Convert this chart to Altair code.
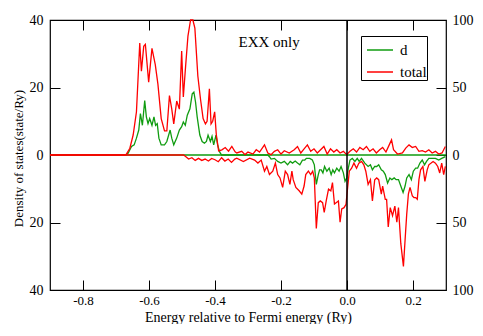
import altair as alt
import pandas as pd

# ---- data (energies in Ry, d in left-axis units, total in right-axis units) ----
d_up_E = [-0.90, -0.67, -0.663, -0.653, -0.645, -0.638, -0.631, -0.626, -0.620, -0.613, -0.608,
          -0.603, -0.598, -0.591, -0.585, -0.580, -0.575, -0.570, -0.563, -0.553, -0.546, -0.536,
          -0.531, -0.525, -0.516, -0.508, -0.501, -0.496, -0.490, -0.484, -0.476, -0.469, -0.464,
          -0.459, -0.454, -0.446, -0.439, -0.432, -0.426, -0.421, -0.414, -0.409, -0.404, -0.397,
          -0.392, -0.386, -0.38, 0.30]
d_up_V = [0, 0, 0.6, 2.5, 3, 5, 7.4, 12.3, 8.8, 16.1, 11.3,
          9.3, 10.8, 8.8, 11.3, 8.8, 9.3, 5, 3, 3, 4, 7.4,
          5, 3, 5, 7.4, 8.4, 9.8, 8.8, 11.8, 13.7, 18.1, 18.6,
          15.7, 11.3, 5.9, 4, 3.5, 4, 5.9, 4, 5.5, 3, 5.9,
          3, 0.9, 0, 0]

d_dn_E = [-0.90, -0.24, -0.235, -0.230, -0.220, -0.210, -0.200, -0.190, -0.180, -0.172, -0.165,
          -0.157, -0.150, -0.143, -0.135, -0.128, -0.123, -0.113, -0.105, -0.099, -0.093, -0.087,
          -0.083, -0.078, -0.073, -0.068, -0.061, -0.054, -0.048, -0.043, -0.038, -0.031, -0.024,
          -0.018, -0.011, -0.006, -0.001, 0.004, 0.009, 0.016, 0.024, 0.031, 0.037, 0.044, 0.054,
          0.064, 0.071, 0.077, 0.084, 0.090, 0.096, 0.104, 0.110, 0.116, 0.123, 0.130, 0.136,
          0.143, 0.149, 0.156, 0.163, 0.170, 0.176, 0.181, 0.188, 0.195, 0.201, 0.208, 0.214,
          0.221, 0.228, 0.235, 0.241, 0.248, 0.258, 0.268, 0.278, 0.287, 0.298]
d_dn_V = [0, 0, -0.5, -1.2, -1, -1.9, -2.4, -1.9, -2.9, -1.9, -2.4,
          -1.8, -2.4, -2.9, -1.5, -1.5, -1, -1, -1.5, -2.9, -8.7, -5.8,
          -4.4, -4.4, -5.3, -3.4, -4.8, -3.9, -5.8, -4.4, -5.3, -3.9, -4.8,
          -3.4, -5.3, -7.8, -6.8, -3.9, -1.5, -1, -1.9, -1, -1.9, -1, -2.4,
          -3.4, -2.9, -4.4, -3.4, -3.4, -2.9, -4.4, -4.8, -5.8, -8.3, -6.8, -7.3,
          -6.8, -7.3, -7.3, -9.2, -11.1, -9.2, -6.8, -5.8, -7.3, -4.8, -3.9, -3.9,
          -2.4, -1.5, -2.9, -1.9, -1, -1, -1, -1.5, -1, -0.5]

tot_up_E = [-0.90, -0.672, -0.668, -0.658, -0.648, -0.638, -0.628, -0.623, -0.616, -0.611, -0.601,
            -0.591, -0.581, -0.573, -0.563, -0.553, -0.546, -0.538, -0.531, -0.525, -0.516, -0.508,
            -0.501, -0.496, -0.489, -0.482, -0.474, -0.467, -0.461, -0.452, -0.444, -0.436, -0.429,
            -0.424, -0.417, -0.412, -0.407, -0.401, -0.396, -0.389, -0.379, -0.369, -0.359, -0.349,
            -0.339, -0.334, -0.319, -0.309, -0.300, -0.285, -0.275, -0.265, -0.250, -0.240, -0.230,
            -0.220, -0.210, -0.200, -0.190, -0.175, -0.160, -0.150, -0.140, -0.130, -0.120, -0.110,
            -0.100, -0.090, -0.080, -0.070, -0.060, -0.050, -0.040, -0.031, -0.021, -0.011, -0.001,
            0.009, 0.019, 0.029, 0.039, 0.049, 0.059, 0.069, 0.079, 0.089, 0.099, 0.108, 0.118,
            0.128, 0.135, 0.141, 0.153, 0.168, 0.178, 0.188, 0.198, 0.208, 0.218, 0.228, 0.238,
            0.248, 0.258, 0.268, 0.278, 0.288, 0.298]
tot_up_V = [0, 0, 0.8, 5, 14.8, 32, 83, 62, 80.5, 82, 54,
            79, 67, 52.5, 27, 17.8, 17.8, 44, 34, 23, 40, 34,
            77, 43, 66, 88, 100, 100, 94, 58.5, 41.5, 27, 23,
            25, 49, 23, 25, 32, 15, 3, 3.8, 5.5, 2.8, 6.3,
            2.3, 1.5, 2.7, 0.3, 2.2, 0.7, 3.9, 2.2, 7.5, 1.5, 0.3,
            2.7, 3.9, 0.7, 3.2, 1.5, 3.9, 6.3, 1.5, 4.6, 7.5, 2.7,
            4.6, 1.5, 3.9, 6.3, 0.7, 4.6, 2.2, 3.9, 1.5, 2.7, 0.3,
            2.7, 4.6, 2.2, 5.6, 3.9, 6.3, 2.7, 4.6, 1.5, 3.9, 5.6, 2.2,
            7.5, 11.2, 3.9, 0.7, 1.5, 5.1, 7.5, 5.6, 6.3, 2.7, 3.2, 2.2,
            3.9, 1.5, 2.7, 0.7, 1.5, 6.3]

tot_dn_E = [-0.90, -0.495, -0.49, -0.48, -0.47, -0.46, -0.45, -0.44, -0.43, -0.42, -0.41,
            -0.40, -0.39, -0.38, -0.37, -0.36, -0.35, -0.34, -0.334, -0.314, -0.295, -0.280,
            -0.270, -0.260, -0.250, -0.243, -0.235, -0.225, -0.217, -0.210, -0.203, -0.195, -0.187,
            -0.180, -0.173, -0.167, -0.163, -0.155, -0.145, -0.137, -0.130, -0.125, -0.117, -0.110,
            -0.104, -0.099, -0.093, -0.087, -0.081, -0.074, -0.069, -0.063, -0.056, -0.049, -0.044,
            -0.038, -0.033, -0.026, -0.021, -0.016, -0.009, -0.003, 0.002, 0.007, 0.014, 0.021,
            0.029, 0.036, 0.044, 0.051, 0.057, 0.064, 0.071, 0.077, 0.084, 0.090, 0.096,
            0.104, 0.108, 0.116, 0.120, 0.125, 0.131, 0.138, 0.145, 0.151, 0.156, 0.163,
            0.171, 0.176, 0.181, 0.186, 0.191, 0.198, 0.203, 0.208, 0.213, 0.218, 0.223,
            0.230, 0.236, 0.243, 0.248, 0.255, 0.261, 0.268, 0.275, 0.281, 0.287, 0.293, 0.298]
tot_dn_V = [0, 0, -1, -3, -2, -4, -2.5, -4, -3, -4.5, -2.5,
            -3.5, -5, -2, -4.5, -3, -5.5, -3, -2.3, -4.8, -2.3, -3.8,
            -6, -3.8, -12, -8.5, -14.5, -12, -6, -14.5, -17, -24, -12,
            -14.5, -21.8, -12, -18.3, -24, -26.5, -29, -23, -14.5, -12, -14.5,
            -12, -17, -54.5, -35.3, -34, -35.3, -42.5, -34, -25.3, -26.5, -20.5,
            -36.3, -35.3, -34, -49.8, -40, -39, -36.5, -24, -12, -9.8, -6,
            -9.8, -6, -4.8, -7.3, -12, -21.8, -18.3, -34, -18.3, -17, -18.3,
            -29, -23, -32.8, -32.8, -53.3, -39, -45, -37.8, -49.8, -39, -65.5,
            -82.5, -63, -43.8, -29, -24, -30.3, -31.5, -31.5, -32.8, -18.3, -11,
            -8.5, -19.5, -11, -7.3, -6, -4.8, -6, -8.5, -13.3, -6, -14.5, -8.5]

series_names = ["d", "total"]
series_colors = ["#109c10", "#ff0000"]
x_ticks = [-0.8, -0.6, -0.4, -0.2, 0.0, 0.2]
left_ticks = [-40, -20, 0, 20, 40]
right_ticks = [-100, -50, 0, 50, 100]

d_df = pd.concat([
    pd.DataFrame({"E": d_up_E, "v": d_up_V, "series": "d", "part": "up"}),
    pd.DataFrame({"E": d_dn_E, "v": d_dn_V, "series": "d", "part": "down"}),
])
t_df = pd.concat([
    pd.DataFrame({"E": tot_up_E, "v": tot_up_V, "series": "total", "part": "up"}),
    pd.DataFrame({"E": tot_dn_E, "v": tot_dn_V, "series": "total", "part": "down"}),
])

FONT = "Liberation Serif"
W, H = 396, 270

x_enc = alt.X("E:Q", scale=alt.Scale(domain=[-0.9, 0.3], nice=False, zero=False),
              axis=alt.Axis(values=x_ticks, title="Energy relative to Fermi energy (Ry)",
                            labelExpr="(datum.value < -0.001 ? '-' : '') + format(abs(datum.value), '.1f')",
                            domain=False, ticks=False, labelPadding=4,
                            grid=True, gridColor="black", gridOpacity=1, gridWidth=1,
                            gridDash=[10, H - 20],
                            labelFontSize=13, labelColor="black",
                            titleFontSize=14, titleFontWeight="normal",
                            titleColor="black", titleY=31, titleBaseline="alphabetic"))

color_enc = alt.Color("series:N", scale=alt.Scale(domain=series_names, range=series_colors),
                      legend=alt.Legend(title=None, orient="none", legendX=311, legendY=16,
                                        symbolType="stroke", symbolSize=676, symbolStrokeWidth=1.5,
                                        symbolOffset=5,
                                        labelFontSize=15, labelColor="black",
                                        labelExpr="datum.label + '  '",
                                        strokeColor="black", fillColor="white", padding=0,
                                        labelOffset=6, rowPadding=-12))

d_layer = alt.Chart(d_df).mark_line(strokeWidth=1.3).encode(
    x=x_enc,
    y=alt.Y("v:Q", scale=alt.Scale(domain=[-40, 40], nice=False),
            axis=alt.Axis(values=left_ticks, orient="left", title="Density of states(state/Ry)",
                          labelExpr="'' + abs(datum.value)", domain=False, ticks=False,
                          labelPadding=7, grid=True, gridColor="black", gridOpacity=1,
                          gridWidth=1, gridDash=[10, W - 20],
                          labelFontSize=14, labelColor="black",
                          titleFontSize=13, titleFontWeight="normal",
                          titleColor="black", titleX=-32, titleY=138, titleBaseline="middle")),
    color=color_enc,
    detail="part:N",
)

t_layer = alt.Chart(t_df).mark_line(strokeWidth=1.3).encode(
    x=x_enc,
    y=alt.Y("v:Q", scale=alt.Scale(domain=[-100, 100], nice=False),
            axis=alt.Axis(values=right_ticks, orient="right", title=None,
                          labelExpr="'' + abs(datum.value)", domain=False, ticks=False,
                          labelPadding=6, grid=False,
                          labelFontSize=14, labelColor="black")),
    color=color_enc,
    detail="part:N",
)

fermi = alt.Chart(pd.DataFrame({"E": [0.0]})).mark_rule(color="black", strokeWidth=1.5).encode(
    x=x_enc
)

label_df = pd.DataFrame({"E": [-0.236], "v": [33.5], "txt": ["EXX only"]})
label = alt.Chart(label_df).mark_text(font=FONT, fontSize=15, color="black").encode(
    x=x_enc,
    y=alt.Y("v:Q", scale=alt.Scale(domain=[-40, 40], nice=False), axis=None),
    text="txt:N",
)

chart = alt.layer(d_layer, t_layer, fermi, label).resolve_scale(y="independent").properties(
    width=W, height=H,
    autosize=alt.AutoSizeParams(type="none"),
    padding={"left": 42, "top": 12, "right": 29, "bottom": 34},
).configure(
    background="white", font=FONT
).configure_axis(
    labelFont=FONT, titleFont=FONT
).configure_legend(
    labelFont=FONT
).configure_text(
    font=FONT
).configure_view(stroke="black", strokeWidth=1.2)

chart.save("out.html", embed_options={"renderer": "svg", "actions": False})
